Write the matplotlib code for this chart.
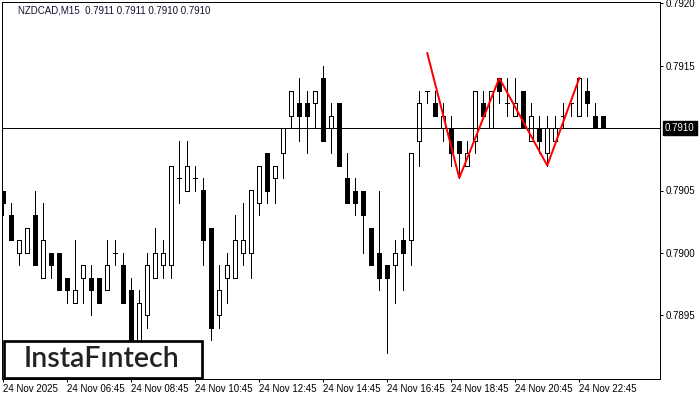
import matplotlib
matplotlib.use("Agg")
import matplotlib.pyplot as plt
from matplotlib.patches import Rectangle
from matplotlib.transforms import blended_transform_factory

# ---- data ----
opens = [0.7905, 0.7903, 0.7900, 0.7900, 0.7903, 0.7898, 0.7900, 0.7900, 0.7898, 0.7896,
         0.7898, 0.7898, 0.7898, 0.7897, 0.7900, 0.7899, 0.7897, 0.7892, 0.7895, 0.7898,
         0.7899, 0.7899, 0.7906, 0.7905, 0.7906, 0.7905, 0.7902, 0.7895, 0.7898, 0.7898,
         0.7900, 0.7900, 0.7904, 0.7908, 0.7906, 0.7908, 0.7911, 0.7912, 0.7912, 0.7912,
         0.7914, 0.7910, 0.7912, 0.7906, 0.7905, 0.7905, 0.7902, 0.7900, 0.7899, 0.7899,
         0.7901, 0.7901, 0.7909, 0.7913, 0.7912, 0.7910, 0.7910, 0.7909, 0.7907, 0.7909,
         0.7912, 0.7910, 0.7914, 0.7912, 0.7911, 0.7913, 0.7909, 0.7910, 0.7908, 0.7909,
         0.7911, 0.7912, 0.7911, 0.7913, 0.7911, 0.7911]
highs = [0.7905, 0.7904, 0.7901, 0.7902, 0.7905, 0.7904, 0.7900, 0.7900, 0.7898, 0.7901,
         0.7899, 0.7899, 0.7898, 0.7901, 0.7901, 0.7900, 0.7898, 0.7897, 0.7900, 0.7902,
         0.7901, 0.7907, 0.7909, 0.7909, 0.7907, 0.7906, 0.7902, 0.7899, 0.7900, 0.7903,
         0.7904, 0.7905, 0.7907, 0.7908, 0.7907, 0.7910, 0.7913, 0.7914, 0.7913, 0.7913,
         0.7915, 0.7912, 0.7912, 0.7908, 0.7906, 0.7905, 0.7902, 0.7905, 0.7899, 0.7901,
         0.7902, 0.7908, 0.7913, 0.7913, 0.7913, 0.7912, 0.7911, 0.7909, 0.7909, 0.7913,
         0.7913, 0.7913, 0.7914, 0.7914, 0.7914, 0.7913, 0.7912, 0.7911, 0.7911, 0.7911,
         0.7912, 0.7912, 0.7914, 0.7914, 0.7912, 0.7911]
lows = [0.7903, 0.7901, 0.7899, 0.7900, 0.7899, 0.7898, 0.7898, 0.7897, 0.7896, 0.7896,
        0.7896, 0.7895, 0.7896, 0.7897, 0.7899, 0.7896, 0.7891, 0.7891, 0.7894, 0.7898,
        0.7898, 0.7898, 0.7904, 0.7905, 0.7905, 0.7899, 0.7893, 0.7894, 0.7896, 0.7898,
        0.7899, 0.7898, 0.7903, 0.7904, 0.7904, 0.7906, 0.7910, 0.7909, 0.7908, 0.7910,
        0.7909, 0.7908, 0.7907, 0.7904, 0.7903, 0.7900, 0.7899, 0.7897, 0.7892, 0.7896,
        0.7897, 0.7899, 0.7907, 0.7912, 0.7911, 0.7909, 0.7907, 0.7906, 0.7907, 0.7908,
        0.7911, 0.7910, 0.7912, 0.7911, 0.7911, 0.7910, 0.7909, 0.7908, 0.7907, 0.7909,
        0.7910, 0.7911, 0.7911, 0.7911, 0.7910, 0.7910]
closes = [0.7904, 0.7901, 0.7901, 0.7902, 0.7899, 0.7901, 0.7899, 0.7897, 0.7897, 0.7897,
          0.7899, 0.7897, 0.7896, 0.7899, 0.7900, 0.7896, 0.7892, 0.7896, 0.7899, 0.7900,
          0.7900, 0.7907, 0.7906, 0.7907, 0.7906, 0.7901, 0.7894, 0.7897, 0.7899, 0.7901,
          0.7901, 0.7905, 0.7907, 0.7905, 0.7907, 0.7910, 0.7913, 0.7911, 0.7911, 0.7913,
          0.7909, 0.7911, 0.7907, 0.7904, 0.7904, 0.7903, 0.7899, 0.7898, 0.7898, 0.7900,
          0.7900, 0.7908, 0.7912, 0.7913, 0.7911, 0.7911, 0.7908, 0.7908, 0.7908, 0.7913,
          0.7911, 0.7913, 0.7913, 0.7912, 0.7912, 0.7910, 0.7911, 0.7909, 0.7910, 0.7910,
          0.7911, 0.7912, 0.7914, 0.7912, 0.7910, 0.7910]

x_tick_pos = [0, 8, 16, 24, 32, 40, 48, 56, 64, 72]
x_tick_labels = ["24 Nov 2025", "24 Nov 06:45", "24 Nov 08:45", "24 Nov 10:45",
                 "24 Nov 12:45", "24 Nov 14:45", "24 Nov 16:45", "24 Nov 18:45",
                 "24 Nov 20:45", "24 Nov 22:45"]
y_ticks = [0.7895, 0.7900, 0.7905, 0.7915, 0.7920]
bid_price = 0.7910
pattern_idx = [53, 57, 62, 68, 72]
pattern_price = [0.7916, 0.7906, 0.7914, 0.7907, 0.7914]
header = "NZDCAD,M15  0.7911 0.7911 0.7910 0.7910"

FONT = "Liberation Sans"

W, H = 700, 400
fig = plt.figure(figsize=(7, 4), dpi=100)
ax = fig.add_axes([2 / W, 21 / H, 658 / W, 377 / H])
ax.set_xlim(-0.1625, 82.09)
ax.set_ylim(0.78899, 0.79201)

px = 72 / 100  # one pixel in points
bw = 0.55
for i, (o, h, l, c) in enumerate(zip(opens, highs, lows, closes)):
    ax.vlines(i, l, h, color="black", linewidth=px, zorder=2, antialiased=False)
    if o == c:
        ax.hlines(o, i - bw / 2, i + bw / 2, color="black", linewidth=px, zorder=3,
                  antialiased=False)
    else:
        face = "white" if c > o else "black"
        ax.add_patch(Rectangle((i - bw / 2, min(o, c)), bw, abs(c - o),
                               facecolor=face, edgecolor="black", linewidth=px,
                               zorder=3, antialiased=False))

ax.axhline(bid_price, color="black", linewidth=px, zorder=4, antialiased=False)
ax.plot(pattern_idx, pattern_price, color="#ff0000", linewidth=2 * px, zorder=6,
        solid_joinstyle="miter")

for s in ax.spines.values():
    s.set_color("black")
    s.set_linewidth(px)

ax.yaxis.tick_right()
ax.set_yticks(y_ticks)
ax.set_yticklabels([f"{v:.4f}" for v in y_ticks], fontsize=7, family=FONT)
ax.tick_params(axis="y", direction="out", length=3 * px, width=px, pad=3 * px)
ax.set_xticks(x_tick_pos)
ax.set_xticklabels(x_tick_labels, fontsize=7, family=FONT, ha="left")
ax.tick_params(axis="x", direction="out", length=3 * px, width=px, pad=2 * px)

trans = blended_transform_factory(ax.transAxes, ax.transData)
ax.text(1 + 5 / 658, bid_price, "0.7910", transform=trans, fontsize=7, family=FONT,
        color="white", va="center", ha="left", clip_on=False,
        bbox=dict(boxstyle="square,pad=0.2", facecolor="black", edgecolor="black"))

fig.text(18 / W, 1 - 10.5 / H, header, fontsize=7, family=FONT, color="#101030",
         va="center", ha="left")

# logo box
ax.add_patch(Rectangle((3.5 / W, 22 / H), 198 / W, 37 / H, transform=fig.transFigure,
                       facecolor="white", edgecolor="black", linewidth=2.7 * px,
                       zorder=10, clip_on=False))
fig.text(101.5 / W, 1 - 359 / H, "InstaF\u0131ntech", fontsize=20.5, family="Lato",
         fontweight="semibold", color="#222222", va="center", ha="center", zorder=11)

fig.savefig("out.png", dpi=100)
